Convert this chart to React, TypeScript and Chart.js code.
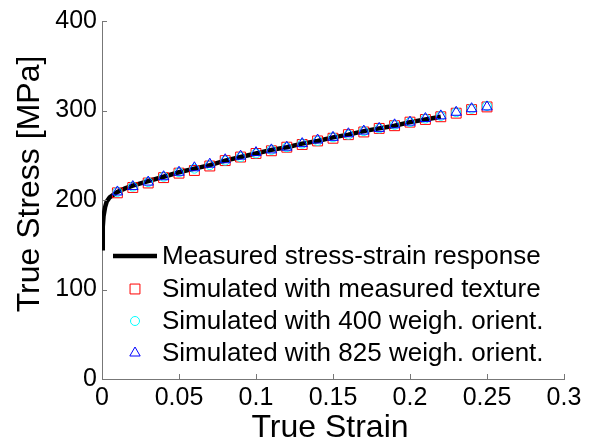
import React, { useEffect, useRef } from 'react';
import { Chart, registerables } from 'chart.js';

Chart.register(...registerables);

// ---- data ----
const strainMeasured = [0, 0.0005, 0.001, 0.002, 0.003, 0.005, 0.0075, 0.01, 0.015, 0.02, 0.03, 0.04, 0.05, 0.06, 0.07, 0.08, 0.09, 0.1, 0.11, 0.12, 0.13, 0.14, 0.15, 0.16, 0.17, 0.18, 0.19, 0.2, 0.21, 0.22];
const stressMeasured = [146, 170, 182, 192, 198, 203, 206, 209, 213, 216, 221, 226, 231, 235, 239, 244, 248, 252, 256, 259, 263, 266, 270, 273, 277, 280, 283, 287, 290, 293];

const strainSim = [0.01, 0.02, 0.03, 0.04, 0.05, 0.06, 0.07, 0.08, 0.09, 0.1, 0.11, 0.12, 0.13, 0.14, 0.15, 0.16, 0.17, 0.18, 0.19, 0.2, 0.21, 0.22, 0.23, 0.24, 0.25];
const stressTexture = [208, 214, 219, 225, 230, 233, 238, 244, 248, 252, 255, 259, 262, 266, 269, 273, 276, 280, 283, 287, 290, 293, 297, 301, 304];
const stress400 = [209, 215, 220, 226, 231, 235, 239, 244, 248, 252, 256, 259, 263, 266, 270, 273, 277, 280, 284, 287, 291, 294, 298, 302, 305];
const stress825 = [209, 215, 220, 226, 231, 236, 240, 245, 249, 253, 256, 259, 263, 267, 270, 274, 277, 280, 284, 287, 291, 294, 298, 302, 304];

const seriesLabels = [
  'Measured stress-strain response',
  'Simulated with measured texture',
  'Simulated with 400 weigh. orient.',
  'Simulated with 825 weigh. orient.',
];

const xTicks = [0, 0.05, 0.1, 0.15, 0.2, 0.25, 0.3];
const yTicks = [0, 100, 200, 300, 400];
const xTitle = 'True Strain';
const yTitle = 'True Stress [MPa]';

const FONT = '"Liberation Sans", Arial, Helvetica, sans-serif';
const AXIS_COLOR = '#777777';

function drawMarker(ctx: CanvasRenderingContext2D, style: string, x: number, y: number, r: number) {
  ctx.beginPath();
  if (style === 'rect') {
    const s = r * Math.SQRT1_2;
    ctx.rect(x - s, y - s, 2 * s, 2 * s);
  } else if (style === 'circle') {
    ctx.arc(x, y, r, 0, Math.PI * 2);
  } else if (style === 'triangle') {
    let rad = 0;
    ctx.moveTo(x + Math.sin(rad) * r, y - Math.cos(rad) * r);
    rad += (2 * Math.PI) / 3;
    ctx.lineTo(x + Math.sin(rad) * r, y - Math.cos(rad) * r);
    rad += (2 * Math.PI) / 3;
    ctx.lineTo(x + Math.sin(rad) * r, y - Math.cos(rad) * r);
    ctx.closePath();
  }
  ctx.stroke();
}

const decorPlugin = {
  id: 'decor',
  afterDraw(chart: any) {
    const ctx: CanvasRenderingContext2D = chart.ctx;
    const xs = chart.scales.x;
    const ys = chart.scales.y;
    const area = chart.chartArea;
    ctx.save();
    // inward ticks
    ctx.strokeStyle = AXIS_COLOR;
    ctx.lineWidth = 1;
    ctx.beginPath();
    xTicks.forEach((v) => {
      const px = Math.round(xs.getPixelForValue(v)) + 0.5;
      ctx.moveTo(px, area.bottom);
      ctx.lineTo(px, area.bottom - 5);
    });
    yTicks.forEach((v) => {
      const py = Math.round(ys.getPixelForValue(v)) + 0.5;
      ctx.moveTo(area.left, py);
      ctx.lineTo(area.left + 5, py);
    });
    ctx.stroke();

    // axis titles
    ctx.fillStyle = '#000';
    ctx.font = `32px ${FONT}`;
    ctx.textAlign = 'center';
    ctx.textBaseline = 'alphabetic';
    ctx.fillText(xTitle, 330, 437);
    ctx.save();
    ctx.translate(39, 184);
    ctx.rotate(-Math.PI / 2);
    ctx.fillText(yTitle, 0, 0);
    ctx.restore();

    // legend
    const ds = chart.data.datasets;
    const rowY = [256, 289, 321, 353];
    ctx.font = `26px ${FONT}`;
    ctx.textAlign = 'left';
    ctx.textBaseline = 'middle';
    ds.forEach((d: any, i: number) => {
      const cy = rowY[i];
      if (d.showLine) {
        ctx.strokeStyle = d.borderColor;
        ctx.lineWidth = d.borderWidth;
        ctx.beginPath();
        ctx.moveTo(113, cy);
        ctx.lineTo(157, cy);
        ctx.stroke();
      } else {
        ctx.strokeStyle = d.borderColor;
        ctx.lineWidth = d.borderWidth;
        drawMarker(ctx, d.pointStyle, 135, cy, d.pointRadius);
      }
      ctx.fillStyle = '#000';
      ctx.fillText(d.label, 162, cy + 1);
    });
    ctx.restore();
  },
};

export default function App() {
  const ref = useRef<HTMLCanvasElement | null>(null);

  useEffect(() => {
    if (!ref.current) return;
    const chart = new Chart(ref.current, {
      type: 'scatter',
      data: {
        datasets: [
          {
            label: seriesLabels[0],
            data: strainMeasured.map((x, i) => ({ x, y: stressMeasured[i] })),
            showLine: true,
            borderColor: '#000000',
            backgroundColor: '#000000',
            borderWidth: 4.5,
            pointRadius: 0,
            tension: 0,
            order: 4,
          },
          {
            label: seriesLabels[1],
            data: strainSim.map((x, i) => ({ x, y: stressTexture[i] })),
            showLine: false,
            pointStyle: 'rect',
            pointRadius: 7,
            borderColor: '#ff0000',
            backgroundColor: 'rgba(0,0,0,0)',
            borderWidth: 1,
            order: 3,
          },
          {
            label: seriesLabels[2],
            data: strainSim.map((x, i) => ({ x, y: stress400[i] })),
            showLine: false,
            pointStyle: 'circle',
            pointRadius: 4.5,
            borderColor: '#00ffff',
            backgroundColor: 'rgba(0,0,0,0)',
            borderWidth: 1,
            order: 2,
          },
          {
            label: seriesLabels[3],
            data: strainSim.map((x, i) => ({ x, y: stress825[i] })),
            showLine: false,
            pointStyle: 'triangle',
            pointRadius: 6,
            borderColor: '#0000ff',
            backgroundColor: 'rgba(0,0,0,0)',
            borderWidth: 1,
            order: 1,
          },
        ],
      },
      options: {
        responsive: false,
        animation: false,
        layout: { padding: { left: 0, right: 28, top: 21, bottom: 0 } },
        plugins: {
          legend: { display: false },
          tooltip: { enabled: false },
          title: { display: false },
        },
        scales: {
          x: {
            type: 'linear',
            min: 0,
            max: 0.3,
            afterBuildTicks: (s: any) => {
              s.ticks = xTicks.map((v) => ({ value: v }));
            },
            afterFit: (s: any) => {
              s.height = 64;
            },
            ticks: {
              callback: (v: any) => String(Math.round(Number(v) * 100) / 100),
              color: '#000',
              font: { family: FONT, size: 25 },
              padding: 4,
              maxRotation: 0,
              autoSkip: false,
            },
            grid: { display: true, drawOnChartArea: false, drawTicks: false },
            border: { display: true, color: AXIS_COLOR, width: 1 },
          },
          y: {
            type: 'linear',
            min: 0,
            max: 400,
            afterBuildTicks: (s: any) => {
              s.ticks = yTicks.map((v) => ({ value: v }));
            },
            afterFit: (s: any) => {
              s.width = 102;
            },
            ticks: {
              callback: (v: any) => String(v),
              color: '#000',
              font: { family: FONT, size: 25 },
              padding: 5,
              autoSkip: false,
            },
            grid: { display: true, drawOnChartArea: false, drawTicks: false },
            border: { display: true, color: AXIS_COLOR, width: 1 },
          },
        },
      },
      plugins: [decorPlugin],
    });
    return () => chart.destroy();
  }, []);

  return (
    <div style={{ position: 'fixed', left: 0, top: 0, width: 592, height: 443, background: '#fff' }}>
      <canvas ref={ref} width={592} height={443} style={{ width: 592, height: 443, display: 'block' }} />
    </div>
  );
}
